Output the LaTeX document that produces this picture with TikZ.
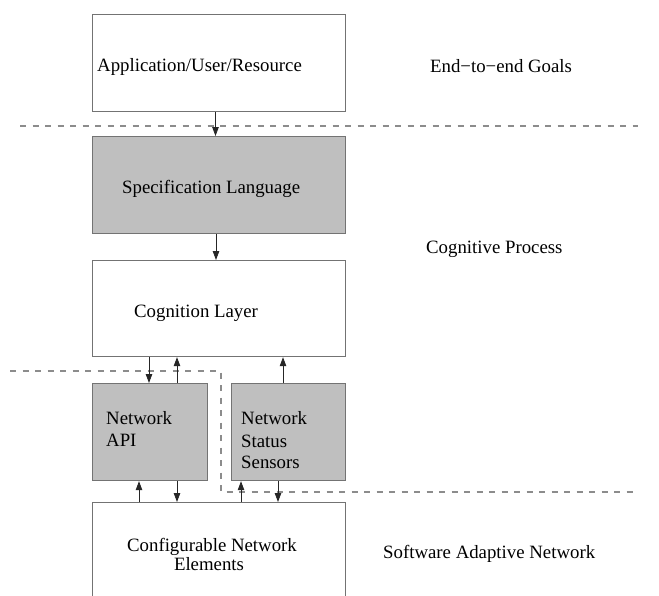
\documentclass[tikz,border=0pt]{standalone}
\usepackage{fontspec}
\setmainfont{Liberation Serif}
\usetikzlibrary{arrows.meta}
\begin{document}
\begin{tikzpicture}[x=1pt,y=-1pt,
  box/.style={draw=black!55,line width=1.2pt,minimum width=253pt,minimum height=97pt,inner sep=0pt,anchor=north west},
  smallbox/.style={box,minimum width=115pt},
  shaded/.style={fill=black!25},
  arr/.style={draw=black!85,line width=0.8pt,-{Triangle[length=9pt,width=6.5pt]}},
  sep/.style={draw=black!45,line width=1.2pt,dash pattern=on 6pt off 6.5pt},
  lbl/.style={font=\fontsize{18.8}{22}\selectfont,inner sep=0pt,anchor=base west},
  clbl/.style={lbl,anchor=base}]
\useasboundingbox (0,0) rectangle (659,595);
\fill[white] (0,0) rectangle (659,595);
% separators
\coordinate (d1a) at (20,126);
\coordinate (d1b) at (638,126);
\coordinate (d2a) at (10,371);
\coordinate (d2b) at (221,371);
\coordinate (d2c) at (221,492);
\coordinate (d2d) at (638,492);
\draw[sep] (d1a) -- (d1b);
\draw[sep] (d2a) -- (d2b) -- (d2c) -- (d2d);
% boxes
\node[box] (app) at (92,14) {};
\node[box,shaded] (spec) at (92,136) {};
\node[box,minimum height=96pt] (cog) at (92,260) {};
\node[smallbox,shaded] (api) at (92,383) {};
\node[smallbox,minimum width=114pt,shaded] (sens) at (231,383) {};
\node[box,minimum height=130pt] (conf) at (92,502) {};
% labels
\node[lbl] (tapp) at (97,71) {Application/User/Resource};
\node[lbl] (tgoals) at (430,72) {End−to−end Goals};
\node[lbl] (tspec) at (122,193) {Specification Language};
\node[lbl] (tcp) at (426,253) {Cognitive Process};
\node[lbl] (tcog) at (134,317) {Cognition Layer};
\node[lbl] (tapi1) at (106,424) {Network};
\node[lbl] (tapi2) at (106,446) {API};
\node[lbl] (tsen1) at (241,424) {Network};
\node[lbl] (tsen2) at (241,447) {Status};
\node[lbl] (tsen3) at (241,468) {Sensors};
\node[clbl] (tconf1) at (212,551) {Configurable Network};
\node[clbl] (tconf2) at (209,570) {Elements};
\node[lbl] (tsan) at (383,558) {Software Adaptive Network};
% arrows
\draw[arr] ([xshift=123.5pt]app.south west) -- ([xshift=123.5pt]spec.north west);
\draw[arr] ([xshift=124pt]spec.south west) -- ([xshift=124pt]cog.north west);
\draw[arr] ([xshift=57pt]cog.south west) -- ([xshift=57pt]api.north west);
\draw[arr] ([xshift=85pt]api.north west) -- ([xshift=85pt]cog.south west);
\draw[arr] ([xshift=52pt]sens.north west) -- ([xshift=191pt]cog.south west);
\draw[arr] ([xshift=47pt]conf.north west) -- ([xshift=47pt]api.south west);
\draw[arr] ([xshift=85pt]api.south west) -- ([xshift=85pt]conf.north west);
\draw[arr] ([xshift=149pt]conf.north west) -- ([xshift=10pt]sens.south west);
\draw[arr] ([xshift=47pt]sens.south west) -- ([xshift=186pt]conf.north west);
\end{tikzpicture}
\end{document}
